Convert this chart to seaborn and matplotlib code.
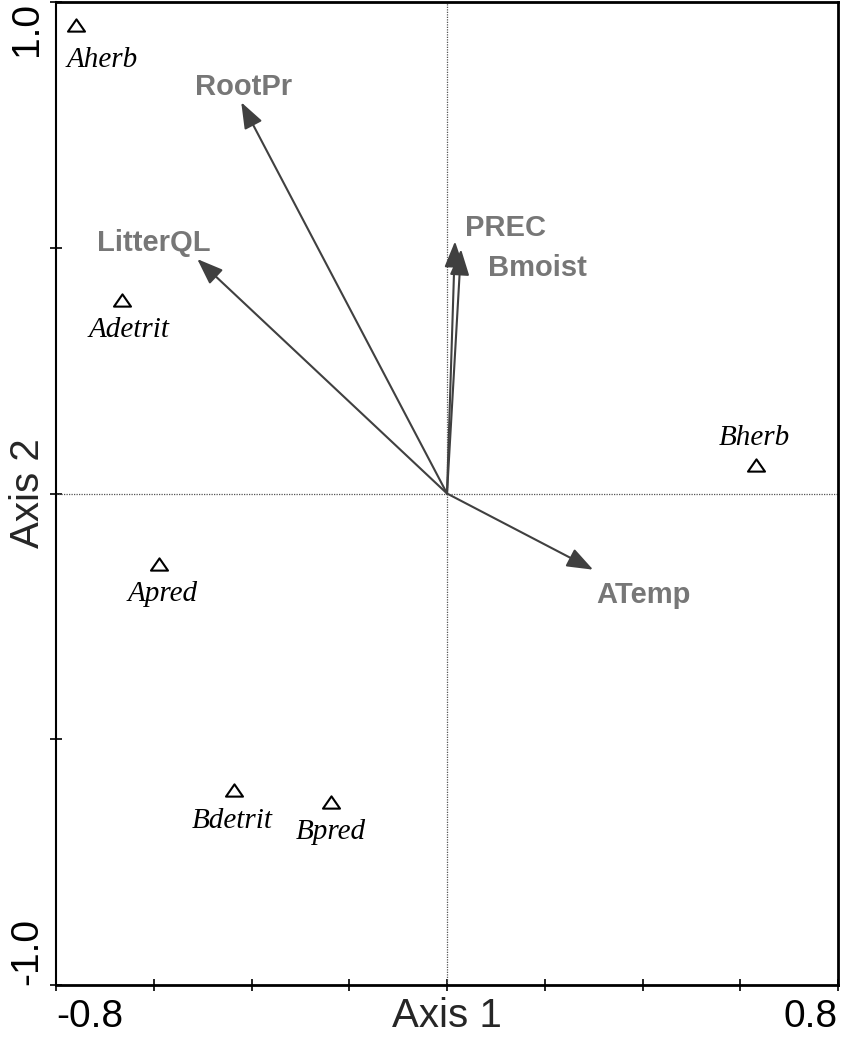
import matplotlib
matplotlib.use("Agg")
import matplotlib.pyplot as plt
import seaborn as sns
import pandas as pd
from matplotlib.path import Path

# ---------------- data ----------------
species = ["Aherb", "Adetrit", "Apred", "Bdetrit", "Bpred", "Bherb"]
sp_x = [-0.759, -0.665, -0.589, -0.436, -0.237, 0.632]
sp_y = [0.953, 0.393, -0.143, -0.603, -0.627, 0.059]
sp_lab_x = [-0.706, -0.650, -0.581, -0.439, -0.237, 0.628]
sp_lab_y = [0.868, 0.318, -0.218, -0.680, -0.703, 0.098]

env_vars = ["RootPr", "LitterQL", "PREC", "Bmoist", "ATemp"]
env_x = [-0.421, -0.511, 0.0164, 0.0287, 0.299]
env_y = [0.796, 0.477, 0.513, 0.497, -0.155]
env_lab_x = [-0.417, -0.599, 0.120, 0.185, 0.401]
env_lab_y = [0.811, 0.493, 0.523, 0.442, -0.222]

x_ticks = [-0.8, -0.6, -0.4, -0.2, 0.0, 0.2, 0.4, 0.6, 0.8]
y_ticks = [-1.0, -0.5, 0.0, 0.5, 1.0]
x_ticklabels = ["-0.8", "", "", "", "", "", "", "", "0.8"]
y_ticklabels = ["-1.0", "", "", "", "1.0"]

df = pd.DataFrame({"species": species, "x": sp_x, "y": sp_y})

# ---------------- style ----------------
sns.set_style("white")
plt.rcParams["font.family"] = ["Liberation Sans", "DejaVu Sans"]

fig = plt.figure(figsize=(8.43, 10.41), dpi=100)
ax = fig.add_axes([56 / 843, 1 - 985 / 1041, (838 - 56) / 843, (985 - 2) / 1041])

tri = Path([(-1, -0.72), (1, -0.72), (0, 0.72), (-1, -0.72)],
           [Path.MOVETO, Path.LINETO, Path.LINETO, Path.CLOSEPOLY])

ax.axhline(0, color="#555555", lw=0.9, ls=(0, (1, 1)), zorder=1)
ax.axvline(0, color="#555555", lw=0.9, ls=(0, (1, 1)), zorder=1)

sns.scatterplot(data=df, x="x", y="y", ax=ax, marker=tri, s=150,
                facecolor="white", edgecolor="black", linewidth=1.5,
                zorder=3, legend=False)

for sp, lx, ly in zip(species, sp_lab_x, sp_lab_y):
    ax.text(lx, ly, sp, family=["Liberation Serif", "DejaVu Serif"],
            style="italic", fontsize=21, ha="center", va="baseline",
            color="black", zorder=4)

for name, ex, ey, lx, ly in zip(env_vars, env_x, env_y, env_lab_x, env_lab_y):
    ax.annotate("", xy=(ex, ey), xytext=(0, 0),
                arrowprops=dict(arrowstyle="-|>,head_length=0.8,head_width=0.3",
                                mutation_scale=20, color="#404040", lw=1.5,
                                shrinkA=0, shrinkB=0), zorder=2)
    ax.text(lx, ly, name, fontsize=21, fontweight="bold", color="#777777",
            ha="center", va="baseline", zorder=4)

ax.set_xlim(-0.8, 0.8)
ax.set_ylim(-1.0, 1.0)

ax.set_xticks(x_ticks)
ax.set_xticklabels(x_ticklabels, fontsize=28)
ax.set_yticks(y_ticks)
ax.set_yticklabels(y_ticklabels, fontsize=28, rotation=90)

xl = ax.get_xticklabels()
xl[0].set_ha("left")
xl[-1].set_ha("right")
yl = ax.get_yticklabels()
yl[0].set_va("bottom")
yl[-1].set_va("top")
for t in yl:
    t.set_ha("right")

ax.tick_params(axis="x", direction="inout", length=8, width=1.2, pad=6,
               bottom=True, top=False, colors="black")
ax.tick_params(axis="y", direction="inout", length=8, width=1.2, pad=4,
               left=True, right=False, colors="black")

for side, sp in ax.spines.items():
    sp.set_color("black")
    sp.set_linewidth(2.0)
ax.spines["left"].set_linewidth(1.5)

ax.set_xlabel("Axis 1", fontsize=29)
ax.set_ylabel("Axis 2", fontsize=29)
ax.xaxis.set_label_coords(0.5, -0.012)
ax.yaxis.set_label_coords(-0.012, 0.5)

fig.savefig("out.png", dpi=100)
